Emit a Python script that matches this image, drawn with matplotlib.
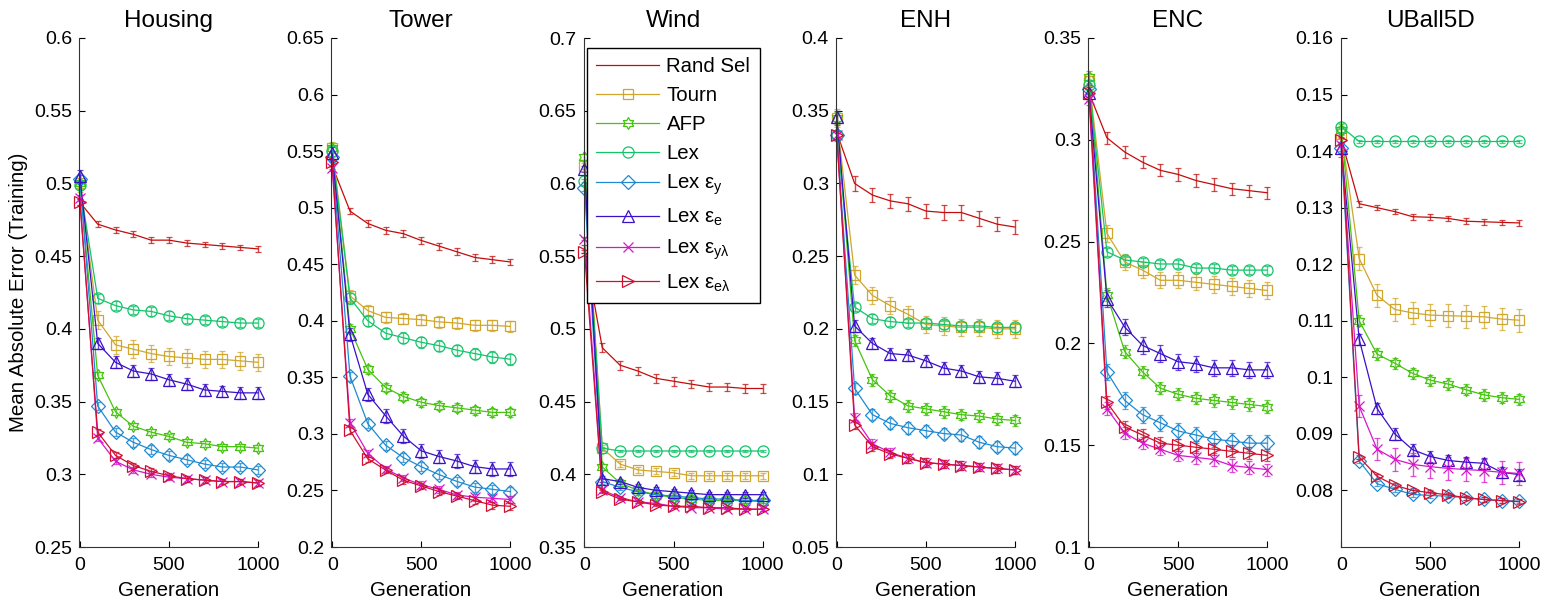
import matplotlib
matplotlib.use("Agg")
import matplotlib.pyplot as plt
from matplotlib.path import Path
from matplotlib.ticker import FuncFormatter

plt.rcParams['font.family'] = ['Liberation Sans', 'DejaVu Sans']
plt.rcParams['mathtext.fontset'] = 'custom'
plt.rcParams['mathtext.rm'] = 'Liberation Sans'
plt.rcParams['mathtext.default'] = 'regular'

# datos
gens = [0, 100, 200, 300, 400, 500, 600, 700, 800, 900, 1000]
metodos = ['Rand Sel', 'Tourn', 'AFP', 'Lex', r'Lex ε$_{y}$', r'Lex ε$_{e}$',
           r'Lex ε$_{yλ}$', r'Lex ε$_{eλ}$']
titulos = ['Housing', 'Tower', 'Wind', 'ENH', 'ENC', 'UBall5D']

# filas en el orden de metodos
housing = [
    [0.487, 0.472, 0.468, 0.465, 0.461, 0.461, 0.459, 0.458, 0.457, 0.456, 0.455],
    [0.500, 0.406, 0.389, 0.386, 0.383, 0.381, 0.380, 0.379, 0.379, 0.378, 0.377],
    [0.500, 0.368, 0.343, 0.333, 0.329, 0.326, 0.322, 0.321, 0.319, 0.319, 0.318],
    [0.499, 0.421, 0.416, 0.413, 0.412, 0.409, 0.407, 0.406, 0.405, 0.404, 0.404],
    [0.503, 0.347, 0.329, 0.322, 0.317, 0.313, 0.310, 0.307, 0.305, 0.305, 0.303],
    [0.505, 0.390, 0.377, 0.371, 0.369, 0.365, 0.362, 0.358, 0.357, 0.356, 0.356],
    [0.490, 0.325, 0.309, 0.303, 0.300, 0.298, 0.297, 0.296, 0.295, 0.295, 0.294],
    [0.487, 0.329, 0.313, 0.306, 0.302, 0.299, 0.297, 0.296, 0.295, 0.295, 0.294],
]
tower = [
    [0.537, 0.497, 0.486, 0.480, 0.477, 0.471, 0.466, 0.461, 0.456, 0.454, 0.452],
    [0.553, 0.422, 0.409, 0.403, 0.402, 0.401, 0.399, 0.398, 0.396, 0.396, 0.395],
    [0.553, 0.393, 0.357, 0.341, 0.333, 0.328, 0.325, 0.323, 0.321, 0.319, 0.319],
    [0.550, 0.420, 0.400, 0.389, 0.385, 0.381, 0.378, 0.374, 0.371, 0.368, 0.366],
    [0.545, 0.351, 0.309, 0.290, 0.279, 0.271, 0.264, 0.258, 0.253, 0.251, 0.249],
    [0.548, 0.388, 0.335, 0.316, 0.298, 0.285, 0.280, 0.276, 0.271, 0.269, 0.269],
    [0.535, 0.310, 0.283, 0.269, 0.261, 0.255, 0.251, 0.246, 0.244, 0.243, 0.242],
    [0.540, 0.303, 0.278, 0.268, 0.259, 0.254, 0.249, 0.245, 0.241, 0.237, 0.236],
]
wind = [
    [0.555, 0.487, 0.475, 0.471, 0.466, 0.464, 0.462, 0.460, 0.460, 0.459, 0.459],
    [0.612, 0.418, 0.407, 0.403, 0.402, 0.401, 0.399, 0.399, 0.399, 0.399, 0.399],
    [0.618, 0.405, 0.394, 0.389, 0.386, 0.384, 0.383, 0.382, 0.382, 0.382, 0.381],
    [0.602, 0.418, 0.416, 0.416, 0.416, 0.416, 0.416, 0.416, 0.416, 0.416, 0.416],
    [0.597, 0.395, 0.391, 0.388, 0.386, 0.385, 0.384, 0.383, 0.383, 0.382, 0.382],
    [0.610, 0.397, 0.395, 0.391, 0.389, 0.388, 0.387, 0.386, 0.386, 0.386, 0.386],
    [0.562, 0.389, 0.384, 0.381, 0.380, 0.378, 0.377, 0.377, 0.376, 0.376, 0.376],
    [0.553, 0.388, 0.383, 0.381, 0.379, 0.378, 0.378, 0.377, 0.377, 0.376, 0.376],
]
enh = [
    [0.335, 0.300, 0.292, 0.288, 0.286, 0.281, 0.280, 0.280, 0.276, 0.272, 0.270],
    [0.345, 0.237, 0.223, 0.216, 0.210, 0.203, 0.202, 0.201, 0.201, 0.200, 0.200],
    [0.345, 0.192, 0.165, 0.154, 0.147, 0.145, 0.143, 0.141, 0.140, 0.138, 0.137],
    [0.333, 0.215, 0.207, 0.205, 0.204, 0.204, 0.203, 0.202, 0.202, 0.201, 0.201],
    [0.333, 0.159, 0.141, 0.135, 0.132, 0.130, 0.128, 0.127, 0.122, 0.119, 0.118],
    [0.346, 0.202, 0.190, 0.183, 0.182, 0.178, 0.173, 0.171, 0.167, 0.166, 0.164],
    [0.333, 0.139, 0.121, 0.115, 0.111, 0.108, 0.107, 0.106, 0.105, 0.104, 0.103],
    [0.333, 0.134, 0.119, 0.114, 0.111, 0.108, 0.107, 0.106, 0.105, 0.104, 0.103],
]
enc = [
    [0.323, 0.301, 0.294, 0.289, 0.285, 0.283, 0.280, 0.278, 0.276, 0.275, 0.274],
    [0.329, 0.254, 0.240, 0.236, 0.231, 0.231, 0.230, 0.229, 0.228, 0.227, 0.226],
    [0.331, 0.224, 0.196, 0.186, 0.178, 0.175, 0.173, 0.172, 0.171, 0.170, 0.169],
    [0.327, 0.245, 0.241, 0.240, 0.239, 0.239, 0.237, 0.237, 0.236, 0.236, 0.236],
    [0.325, 0.186, 0.172, 0.165, 0.161, 0.157, 0.155, 0.153, 0.152, 0.151, 0.151],
    [0.323, 0.222, 0.208, 0.199, 0.195, 0.191, 0.190, 0.188, 0.188, 0.187, 0.187],
    [0.320, 0.168, 0.156, 0.151, 0.148, 0.145, 0.144, 0.143, 0.140, 0.139, 0.138],
    [0.323, 0.171, 0.159, 0.155, 0.151, 0.150, 0.149, 0.148, 0.147, 0.146, 0.145],
]
uball = [
    [0.1420, 0.1307, 0.1300, 0.1293, 0.1284, 0.1283, 0.1281, 0.1276, 0.1275, 0.1274, 0.1273],
    [0.1430, 0.1210, 0.1145, 0.1120, 0.1114, 0.1110, 0.1109, 0.1108, 0.1107, 0.1103, 0.1101],
    [0.1438, 0.1100, 0.1041, 0.1025, 0.1007, 0.0995, 0.0988, 0.0978, 0.0969, 0.0964, 0.0961],
    [0.1443, 0.1417, 0.1417, 0.1417, 0.1417, 0.1417, 0.1417, 0.1417, 0.1417, 0.1417, 0.1417],
    [0.1405, 0.0852, 0.0812, 0.0802, 0.0793, 0.0791, 0.0790, 0.0787, 0.0784, 0.0782, 0.0781],
    [0.1406, 0.1067, 0.0945, 0.0900, 0.0872, 0.0860, 0.0853, 0.0850, 0.0848, 0.0832, 0.0828],
    [0.1410, 0.0949, 0.0873, 0.0855, 0.0846, 0.0842, 0.0839, 0.0837, 0.0835, 0.0832, 0.0830],
    [0.1420, 0.0859, 0.0825, 0.0809, 0.0800, 0.0796, 0.0792, 0.0787, 0.0784, 0.0782, 0.0780],
]

# semiancho de las barras de error (uno por metodo)
err_housing = [0.002, 0.006, 0.002, 0.003, 0.003, 0.004, 0.002, 0.002]
err_tower = [0.003, 0.005, 0.004, 0.005, 0.004, 0.006, 0.003, 0.003]
err_wind = [0.003, 0.002, 0.002, 0.001, 0.002, 0.002, 0.001, 0.001]
err_enh = [0.005, 0.006, 0.004, 0.003, 0.004, 0.004, 0.003, 0.003]
err_enc = [0.003, 0.004, 0.003, 0.002, 0.004, 0.004, 0.003, 0.003]
err_uball = [0.0005, 0.002, 0.001, 0.0002, 0.0004, 0.001, 0.002, 0.0004]

ylims = [(0.25, 0.6), (0.2, 0.65), (0.35, 0.7), (0.05, 0.4), (0.1, 0.35), (0.07, 0.16)]
yticks = [
    [0.25, 0.3, 0.35, 0.4, 0.45, 0.5, 0.55, 0.6],
    [0.2, 0.25, 0.3, 0.35, 0.4, 0.45, 0.5, 0.55, 0.6, 0.65],
    [0.35, 0.4, 0.45, 0.5, 0.55, 0.6, 0.65, 0.7],
    [0.05, 0.1, 0.15, 0.2, 0.25, 0.3, 0.35, 0.4],
    [0.1, 0.15, 0.2, 0.25, 0.3, 0.35],
    [0.08, 0.09, 0.1, 0.11, 0.12, 0.13, 0.14, 0.15, 0.16],
]

# estilos
hexagrama = Path.unit_regular_star(6, innerCircle=0.577)
colores = ['#c40c0c', '#d0a62c', '#44c40c', '#12c46a', '#1f8ad0', '#3a10c8',
           '#d418c8', '#d01030']
marcadores = [None, 's', hexagrama, 'o', 'D', '^', 'x', '>']
tamanos = [0, 7.5, 8.5, 8, 7, 9, 6.5, 9]

datos = [housing, tower, wind, enh, enc, uball]
errores = [err_housing, err_tower, err_wind, err_enh, err_enc, err_uball]

fig = plt.figure(figsize=(15.45, 6.02), dpi=100)

for k in range(6):
    ax = fig.add_axes([(79 + 252.3 * k) / 1545, 55 / 602, 179 / 1545, 509 / 602])
    for i in range(8):
        eb = ax.errorbar(gens, datos[k][i], yerr=errores[k][i], color=colores[i],
                         marker=marcadores[i], markersize=tamanos[i],
                         markerfacecolor='none', markeredgewidth=0.9,
                         linewidth=0.9, elinewidth=1.0, capsize=2.3,
                         ecolor=colores[i], label=metodos[i], clip_on=False)
        for barra in eb[2]:
            barra.set_alpha(0.75)
        for cap in eb[1]:
            cap.set_alpha(0.75)
    ax.set_xlim(-5, 1000)
    ax.set_ylim(*ylims[k])
    ax.set_yticks(yticks[k])
    ax.set_xticks([0, 500, 1000])
    ax.yaxis.set_major_formatter(FuncFormatter(lambda v, p: '%g' % round(v, 4)))
    ax.spines['top'].set_visible(False)
    ax.spines['right'].set_visible(False)
    ax.spines['left'].set_color('#333333')
    ax.spines['bottom'].set_color('#333333')
    ax.tick_params(direction='in', length=4, labelsize=14, pad=5)
    ax.tick_params(axis='x', pad=7)
    ax.set_title(titulos[k], fontsize=17.5, pad=8)
    ax.set_xlabel('Generation', fontsize=14.8, labelpad=5)
    if k == 0:
        ax.set_ylabel('Mean Absolute Error (Training)', fontsize=14.8, labelpad=4)
    if k == 2:
        handles, labels = ax.get_legend_handles_labels()
        handles = [h[0] for h in handles]
        ax.legend(handles, labels, loc='upper right', bbox_to_anchor=(0.983, 0.98),
                  fontsize=14.7, handlelength=3.1, frameon=True, fancybox=False,
                  edgecolor='black', framealpha=1, borderpad=0.45, labelspacing=0.48,
                  handletextpad=0.35, borderaxespad=0)

fig.savefig('out.png', dpi=100)
